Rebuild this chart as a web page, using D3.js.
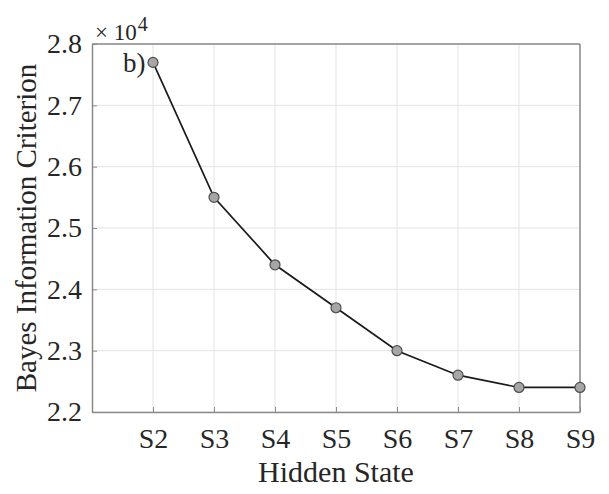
<!DOCTYPE html>
<html>
<head>
<meta charset="utf-8">
<script src="https://cdn.jsdelivr.net/npm/d3@7"></script>
<style>
  body { margin: 0; background: #fff; }
  text { font-family: "Liberation Serif", "Times New Roman", serif; fill: #262626; }
</style>
</head>
<body>
<div id="chart"></div>
<script>
// hidden states and BIC values (x10^4)
var states = ["S2", "S3", "S4", "S5", "S6", "S7", "S8", "S9"];
var bic = [2.77, 2.55, 2.44, 2.37, 2.30, 2.26, 2.24, 2.24];
var yTicks = [2.2, 2.3, 2.4, 2.5, 2.6, 2.7, 2.8];

var margin = {top: 44, right: 29, bottom: 82, left: 92},
    width = 609 - margin.left - margin.right,
    height = 494 - margin.top - margin.bottom;

var svg = d3.select("#chart")
  .append("svg")
    .attr("width", 609)
    .attr("height", 494)
  .append("g")
    .attr("transform", "translate(" + margin.left + "," + margin.top + ")");

// x is index based: S2 sits at 1, S9 at 8, axis runs 0..8
var xScale = d3.scaleLinear().domain([0, 8]).range([0, width]);
var yScale = d3.scaleLinear().domain([2.2, 2.8]).range([height, 0]);

// grid
svg.append("g").selectAll("line")
  .data(states)
  .enter().append("line")
    .attr("x1", (d, i) => xScale(i + 1)).attr("x2", (d, i) => xScale(i + 1))
    .attr("y1", 0).attr("y2", height)
    .attr("stroke", "#e3e3e3").attr("stroke-width", 1);

svg.append("g").selectAll("line")
  .data(yTicks)
  .enter().append("line")
    .attr("x1", 0).attr("x2", width)
    .attr("y1", d => yScale(d)).attr("y2", d => yScale(d))
    .attr("stroke", "#e3e3e3").attr("stroke-width", 1);

// axes
var xAxis = svg.append("g")
  .attr("transform", "translate(0," + height + ")")
  .call(d3.axisBottom(xScale)
    .tickValues(d3.range(1, 9))
    .tickFormat((d) => states[d - 1])
    .tickSizeInner(-5).tickSizeOuter(0).tickPadding(16));

var yAxis = svg.append("g")
  .call(d3.axisLeft(yScale)
    .tickValues(yTicks)
    .tickFormat(d3.format(".1f"))
    .tickSizeInner(-5).tickSizeOuter(0).tickPadding(10));

[xAxis, yAxis].forEach(function(ax) {
  ax.select(".domain").attr("stroke", "#8a8a8a").attr("stroke-width", 1.5);
  ax.selectAll(".tick line").attr("stroke", "#8a8a8a");
  ax.selectAll(".tick text")
    .attr("font-family", "Liberation Serif, Times New Roman, serif")
    .attr("font-size", 28).attr("fill", "#262626");
});
xAxis.selectAll(".tick text").attr("dy", "0.71em");

// top and right box edges
svg.append("line").attr("x1", 0).attr("x2", width).attr("y1", 0).attr("y2", 0)
  .attr("stroke", "#8a8a8a").attr("stroke-width", 1.5);
svg.append("line").attr("x1", width).attr("x2", width).attr("y1", 0).attr("y2", height)
  .attr("stroke", "#8a8a8a").attr("stroke-width", 1.5);

// line + markers
var line = d3.line()
  .x((d, i) => xScale(i + 1))
  .y(d => yScale(d));

svg.append("path")
  .datum(bic)
  .attr("d", line)
  .attr("fill", "none")
  .attr("stroke", "#1a1a1a")
  .attr("stroke-width", 1.7);

svg.selectAll("circle")
  .data(bic)
  .enter().append("circle")
    .attr("cx", (d, i) => xScale(i + 1))
    .attr("cy", d => yScale(d))
    .attr("r", 5)
    .attr("fill", "#a6a6a6")
    .attr("stroke", "#4d4d4d")
    .attr("stroke-width", 1.2);

// labels
svg.append("text")
  .attr("text-anchor", "middle")
  .attr("x", width / 2)
  .attr("y", height + 70)
  .attr("font-size", 30)
  .text("Hidden State");

svg.append("text")
  .attr("text-anchor", "middle")
  .attr("transform", "rotate(-90)")
  .attr("x", -height / 2)
  .attr("y", -56)
  .attr("font-size", 29)
  .text("Bayes Information Criterion");

// exponent (matlab style, a bit spread out)
var expo = svg.append("text")
  .attr("x", 3)
  .attr("y", -4)
  .attr("font-size", 23)
  .text("\u00d7 10");
expo.append("tspan").attr("font-size", 20).attr("dx", 1).attr("dy", -9).text("4");

// panel tag
svg.append("text")
  .attr("x", 31)
  .attr("y", 28)
  .attr("font-size", 27)
  .text("b)");
</script>
</body>
</html>
